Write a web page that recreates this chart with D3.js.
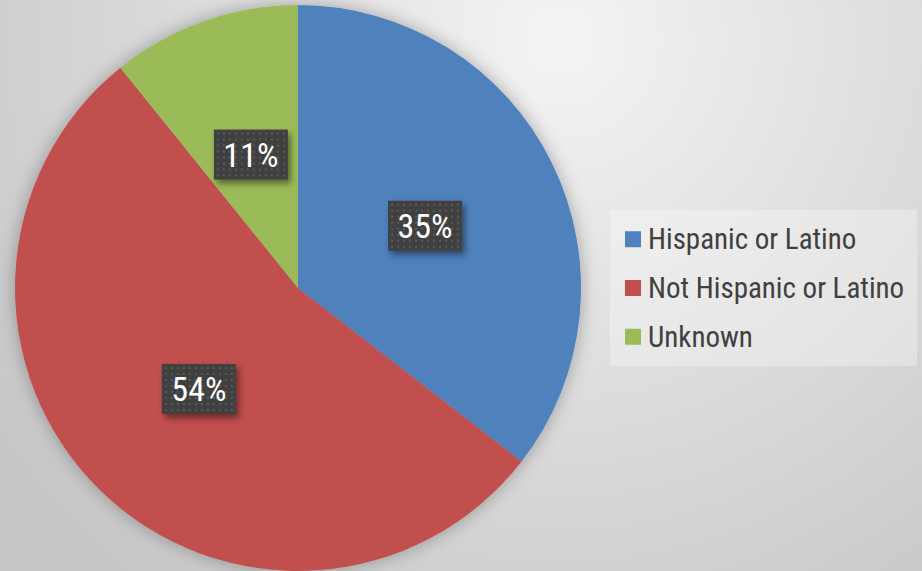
<!DOCTYPE html>
<html>
<head>
<meta charset="utf-8">
<script src="https://cdn.jsdelivr.net/npm/d3@7"></script>
<style>
  html, body { margin: 0; padding: 0; }
  svg { display: block; }
  text { font-family: "Liberation Sans Narrow", "Roboto Condensed", "DejaVu Sans Condensed", "Roboto", sans-serif; }
</style>
</head>
<body>
<div id="chart"></div>
<script>
var width = 922,
	height = 571,
	radius = 283,
	cx = 298,
	cy = 288;

// shares; labels as printed
var categories = ["Hispanic or Latino", "Not Hispanic or Latino", "Unknown"],
	values = [35.5, 53.7, 10.8],
	labels = ["35%", "54%", "11%"],
	colors = ["#4f81bd", "#c0504d", "#9bbb59"];

var data = categories.map(function(c, i){
	return {name: c, value: values[i], label: labels[i], color: colors[i]};
});

var svg = d3.select("#chart")
			.append("svg")
			.attr("width", width)
			.attr("height", height);

var defs = svg.append("defs");

// background gradient
var bg = defs.append("radialGradient")
	.attr("id", "bg")
	.attr("gradientUnits", "userSpaceOnUse")
	.attr("cx", 560).attr("cy", 40).attr("r", 700);
bg.append("stop").attr("offset", "0%").attr("stop-color", "#f4f4f4");
bg.append("stop").attr("offset", "100%").attr("stop-color", "#c6c6c6");

// soft shadow round the pie
var sh = defs.append("filter").attr("id", "pieShadow")
	.attr("x", "-20%").attr("y", "-20%").attr("width", "140%").attr("height", "140%");
sh.append("feDropShadow").attr("dx", 0).attr("dy", 0)
	.attr("stdDeviation", 9).attr("flood-color", "#000").attr("flood-opacity", 0.3);

// label box shadow
var ls = defs.append("filter").attr("id", "labelShadow")
	.attr("x", "-30%").attr("y", "-30%").attr("width", "160%").attr("height", "160%");
ls.append("feDropShadow").attr("dx", 3).attr("dy", 4)
	.attr("stdDeviation", 3).attr("flood-color", "#000").attr("flood-opacity", 0.45);

// dotted fill of the label boxes
var pat = defs.append("pattern")
	.attr("id", "dots")
	.attr("patternUnits", "userSpaceOnUse")
	.attr("width", 6).attr("height", 6);
pat.append("rect").attr("width", 6).attr("height", 6).attr("fill", "#404040");
pat.append("rect").attr("x", 2).attr("y", 2).attr("width", 2).attr("height", 2).attr("fill", "#5a5a5a");

svg.append("rect")
	.attr("width", width)
	.attr("height", height)
	.attr("fill", "url(#bg)");

var pie = d3.pie()
	.sort(null)
	.value(function(d){ return d.value; });

var arc = d3.arc()
	.innerRadius(0)
	.outerRadius(radius);

var arcs = pie(data);

var g = svg.append("g")
	.attr("transform", "translate(" + cx + "," + cy + ")");

g.append("g")
	.attr("filter", "url(#pieShadow)")
	.selectAll("path")
	.data(arcs)
	.enter()
	.append("path")
	.attr("d", arc)
	.attr("fill", function(d){ return d.data.color; });

var lab = g.selectAll("g.label")
	.data(arcs)
	.enter()
	.append("g")
	.attr("class", "label")
	.attr("transform", function(d){
		var c = arc.centroid(d);
		return "translate(" + c[0] + "," + c[1] + ")";
	});

lab.append("rect")
	.attr("x", -37)
	.attr("y", -25)
	.attr("width", 74)
	.attr("height", 50)
	.attr("fill", "url(#dots)")
	.attr("filter", "url(#labelShadow)");

lab.append("text")
	.attr("text-anchor", "middle")
	.attr("dy", "0.36em")
	.attr("fill", "#ffffff")
	.style("font-size", "34px")
	.text(function(d){ return d.data.label; });

// legend
var legend = svg.append("g")
	.attr("transform", "translate(610,210)");

legend.append("rect")
	.attr("width", 307)
	.attr("height", 156)
	.attr("fill", "#ffffff")
	.attr("fill-opacity", 0.3);

var y = d3.scaleBand()
	.domain(categories)
	.range([0, 156])
	.paddingOuter(0.1);

var item = legend.selectAll("g.item")
	.data(data)
	.enter()
	.append("g")
	.attr("class", "item")
	.attr("transform", function(d){
		return "translate(0," + (y(d.name) + y.bandwidth() / 2) + ")";
	});

item.append("rect")
	.attr("x", 15)
	.attr("y", -8)
	.attr("width", 16)
	.attr("height", 16)
	.attr("fill", function(d){ return d.color; });

item.append("text")
	.attr("x", 38)
	.attr("dy", "0.35em")
	.attr("fill", "#404040")
	.style("font-size", "29px")
	.text(function(d){ return d.name; });
</script>
</body>
</html>
